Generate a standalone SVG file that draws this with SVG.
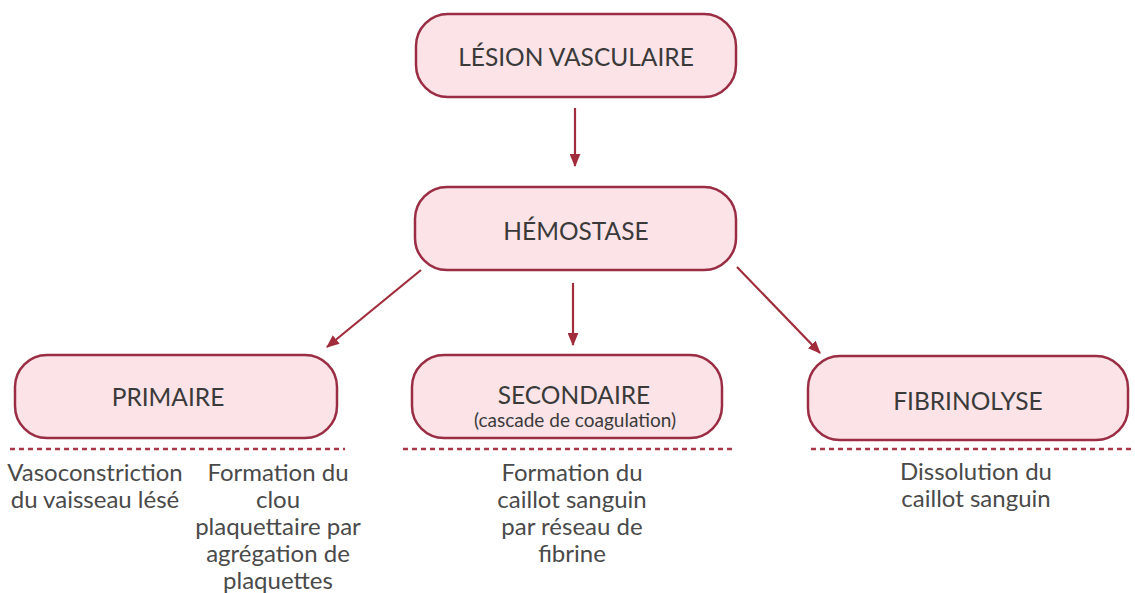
<svg xmlns="http://www.w3.org/2000/svg" width="1135" height="593" viewBox="0 0 1135 593">
<defs>
<marker id="ah" viewBox="0 0 12 10" refX="11" refY="5" markerWidth="13" markerHeight="11" markerUnits="userSpaceOnUse" orient="auto">
<path d="M0,0 L12,5 L0,10 z" fill="#a02c3c"/>
</marker>
<linearGradient id="gl" gradientUnits="userSpaceOnUse" x1="421" y1="270" x2="327" y2="347">
<stop offset="0" stop-color="#a02c3c" stop-opacity="0.3"/>
<stop offset="0.5" stop-color="#a02c3c"/>
</linearGradient>
<linearGradient id="gr" gradientUnits="userSpaceOnUse" x1="737" y1="267" x2="820" y2="353">
<stop offset="0" stop-color="#a02c3c" stop-opacity="0.3"/>
<stop offset="0.5" stop-color="#a02c3c"/>
</linearGradient>
<style>
.box{fill:#fbe3e7;stroke:#9a2c44;stroke-width:2.5}
.t{font-family:Lato,"Open Sans",sans-serif;font-size:24.5px;fill:#3a3a3a;text-anchor:middle}
.s{font-family:Lato,"Open Sans",sans-serif;font-size:19px;fill:#3a3a3a;text-anchor:middle}
.d{font-family:Lato,"Open Sans",sans-serif;font-size:24px;fill:#4a4a4a;text-anchor:middle}
.dot{stroke:#a83848;stroke-width:2.5;stroke-dasharray:5 4;fill:none}
.c{stroke:#a02c3c;stroke-width:2.2;fill:none;marker-end:url(#ah)}
</style>
</defs>
<rect width="1135" height="593" fill="#fff"/>
<g id="connectors">
<line class="c" x1="575" y1="108" x2="575" y2="166"/>
<line class="c" x1="421" y1="270" x2="327" y2="347" stroke="url(#gl)"/>
<line class="c" x1="573" y1="283" x2="573" y2="345"/>
<line class="c" x1="737" y1="267" x2="820" y2="353" stroke="url(#gr)"/>
</g>
<g id="lesion">
<rect class="box" x="416" y="14" width="320" height="83" rx="32"/>
<text class="t" x="576" y="66">LÉSION VASCULAIRE</text>
</g>
<g id="hemostase">
<rect class="box" x="415" y="187" width="321" height="83" rx="32"/>
<text class="t" x="576" y="240">HÉMOSTASE</text>
</g>
<g id="primaire">
<rect class="box" x="15" y="355" width="322" height="83" rx="32"/>
<text class="t" x="168" y="406">PRIMAIRE</text>
<line class="dot" x1="10" y1="449" x2="345" y2="449"/>
<text class="d" x="95" y="481">Vasoconstriction</text>
<text class="d" x="95" y="508">du vaisseau lésé</text>
<text class="d" x="278" y="481">Formation du</text>
<text class="d" x="278" y="508">clou</text>
<text class="d" x="278" y="535">plaquettaire par</text>
<text class="d" x="278" y="562">agrégation de</text>
<text class="d" x="278" y="589">plaquettes</text>
</g>
<g id="secondaire">
<rect class="box" x="412" y="355" width="310" height="83" rx="32"/>
<text class="t" x="574" y="404">SECONDAIRE</text>
<text class="s" x="575" y="427">(cascade de coagulation)</text>
<line class="dot" x1="403" y1="449" x2="733" y2="449"/>
<text class="d" x="572" y="481">Formation du</text>
<text class="d" x="572" y="508">caillot sanguin</text>
<text class="d" x="572" y="535">par réseau de</text>
<text class="d" x="572" y="562">fibrine</text>
</g>
<g id="fibrinolyse">
<rect class="box" x="808" y="356" width="320" height="84" rx="32"/>
<text class="t" x="968" y="410">FIBRINOLYSE</text>
<line class="dot" x1="811" y1="449" x2="1135" y2="449"/>
<text class="d" x="976" y="480">Dissolution du</text>
<text class="d" x="976" y="507">caillot sanguin</text>
</g>
</svg>
